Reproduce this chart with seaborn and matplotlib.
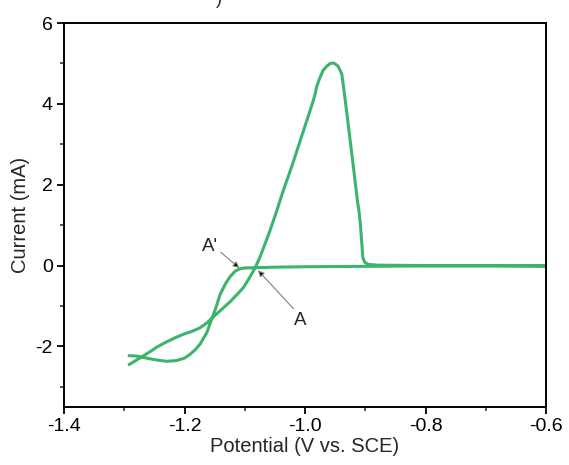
import matplotlib
matplotlib.use("Agg")
import matplotlib.pyplot as plt
import seaborn as sns
import pandas as pd
from matplotlib.ticker import MultipleLocator

# Potential (V vs. SCE) and current (mA) along the scan path
potential = [
    -1.292, -1.279, -1.263, -1.245, -1.230, -1.213, -1.200, -1.191, -1.182, -1.174,
    -1.163, -1.155, -1.148, -1.141, -1.132, -1.124, -1.116, -1.108, -1.100,
    -1.050, -1.000, -0.900, -0.800, -0.700, -0.600,
    -0.700, -0.800, -0.880, -0.895, -0.901, -0.904, -0.906, -0.908, -0.910, -0.913,
    -0.917, -0.921, -0.925, -0.930, -0.935, -0.939, -0.945, -0.952, -0.958, -0.964,
    -0.970, -0.976, -0.981, -0.983, -0.989, -1.008, -1.022, -1.036, -1.047, -1.058,
    -1.066, -1.075, -1.083, -1.092, -1.102, -1.113, -1.124, -1.138, -1.152, -1.163,
    -1.174, -1.188, -1.202, -1.216, -1.230, -1.245, -1.257, -1.270, -1.282, -1.292,
]
current = [
    -2.23, -2.24, -2.29, -2.34, -2.37, -2.35, -2.29, -2.20, -2.08, -1.94,
    -1.66, -1.33, -1.05, -0.72, -0.45, -0.27, -0.14, -0.08, -0.06,
    -0.04, -0.03, -0.02, -0.01, -0.01, -0.01,
    0.00, 0.00, 0.01, 0.03, 0.08, 0.20, 0.60, 1.00, 1.30, 1.60,
    2.10, 2.60, 3.09, 3.70, 4.30, 4.74, 4.93, 5.01, 5.00, 4.93,
    4.83, 4.62, 4.41, 4.25, 3.95, 3.09, 2.45, 1.86, 1.35, 0.87,
    0.55, 0.20, -0.06, -0.30, -0.54, -0.72, -0.89, -1.08, -1.27, -1.42,
    -1.54, -1.63, -1.70, -1.79, -1.89, -2.01, -2.13, -2.25, -2.36, -2.45,
]

x_ticks = [-1.4, -1.2, -1.0, -0.8, -0.6]
y_ticks = [-2, 0, 2, 4, 6]

sns.set_style("ticks")
plt.rcParams["font.family"] = ["Liberation Sans", "DejaVu Sans"]

df = pd.DataFrame({"Potential": potential, "Current": current})

fig = plt.figure(figsize=(5.69, 4.65), dpi=100)
ax = fig.add_axes([0.1125, 0.1247, 0.8471, 0.8258])

sns.lineplot(data=df, x="Potential", y="Current", sort=False, estimator=None,
             color="#3DB46D", linewidth=2.2, ax=ax)

ax.set_xlim(-1.4, -0.6)
ax.set_ylim(-3.5, 6)
ax.set_xticks(x_ticks)
ax.set_xticklabels([f"{v:.1f}" for v in x_ticks])
ax.set_yticks(y_ticks)
ax.set_yticklabels([str(v) for v in y_ticks])
ax.xaxis.set_minor_locator(MultipleLocator(0.1))
ax.yaxis.set_minor_locator(MultipleLocator(1))

for s in ax.spines.values():
    s.set_visible(True)
    s.set_linewidth(1.4)
    s.set_color("black")

ax.tick_params(which="major", direction="out", length=5, width=1.3, labelsize=14, colors="black", pad=3)
ax.tick_params(which="minor", direction="out", length=3, width=1.1)

ax.set_xlabel("Potential (V vs. SCE)", fontsize=14.5, labelpad=1)
ax.set_ylabel("Current (mA)", fontsize=14.5, labelpad=4)

arrow = dict(arrowstyle="-|>", ec="gray", fc="black", lw=0.8, mutation_scale=9,
             shrinkA=0, shrinkB=0)
ax.annotate("", xy=(-1.109, -0.06), xytext=(-1.140, 0.33), arrowprops=arrow)
ax.text(-1.158, 0.47, "A'", fontsize=13.5, ha="center", va="center")
ax.annotate("", xy=(-1.078, -0.12), xytext=(-1.019, -1.07), arrowprops=arrow)
ax.text(-1.008, -1.35, "A", fontsize=13.5, ha="center", va="center")

fig.text(0.385, 1.0, ")", fontsize=13, ha="center", va="center")

fig.savefig("out.png", dpi=100)
